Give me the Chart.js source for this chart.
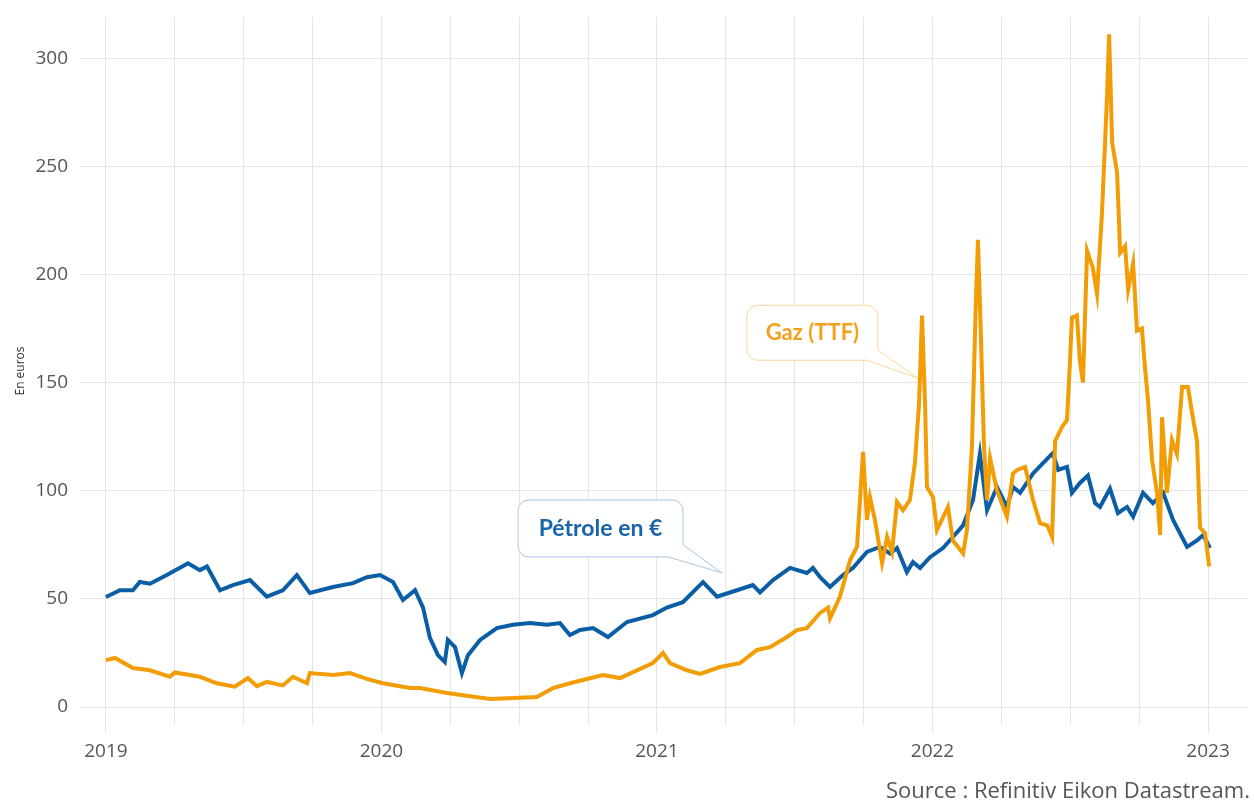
<!DOCTYPE html>
<html lang="fr">
<head>
<meta charset="utf-8">
<script src="https://cdn.jsdelivr.net/npm/chart.js@4.4.0/dist/chart.umd.min.js"></script>
<style>
  html, body { margin: 0; padding: 0; background: #fff; overflow: hidden; }
  #wrap { position: relative; width: 1254px; height: 800px; }
  #source { position: absolute; left: 886px; top: 774px; font: 22px "Open Sans", sans-serif; color: #555; white-space: nowrap; }
</style>
</head>
<body>
<div id="wrap">
  <canvas id="graph" width="1254" height="800"></canvas>
  <div id="source">Source : Refinitiv Eikon Datastream.</div>
</div>
<script>
// années en décimal (2019.5 = milieu de 2019)
const petroleAnnees = [
  2019.000, 2019.051, 2019.098, 2019.123, 2019.160, 2019.221, 2019.298, 2019.341, 2019.367, 2019.414,
  2019.461, 2019.523, 2019.584, 2019.642, 2019.693, 2019.740, 2019.824, 2019.897, 2019.947, 2019.995,
  2020.042, 2020.078, 2020.122, 2020.151, 2020.176, 2020.205, 2020.230, 2020.241, 2020.267, 2020.292,
  2020.314, 2020.358, 2020.419, 2020.477, 2020.539, 2020.601, 2020.648, 2020.684, 2020.721, 2020.768,
  2020.822, 2020.891, 2020.985, 2021.036, 2021.094, 2021.167, 2021.218, 2021.290, 2021.348, 2021.374,
  2021.421, 2021.483, 2021.544, 2021.566, 2021.592, 2021.628, 2021.675, 2021.711, 2021.762, 2021.809,
  2021.846, 2021.871, 2021.907, 2021.929, 2021.955, 2021.991, 2022.038, 2022.074, 2022.111, 2022.147,
  2022.172, 2022.198, 2022.234, 2022.270, 2022.292, 2022.318, 2022.365, 2022.401, 2022.437, 2022.456,
  2022.488, 2022.506, 2022.535, 2022.564, 2022.590, 2022.608, 2022.644, 2022.673, 2022.706, 2022.728,
  2022.764, 2022.800, 2022.837, 2022.873, 2022.924, 2022.960, 2022.982, 2023.007
];
const petroleValeurs = [
  50.9, 54, 54, 57.8, 57, 61, 66.5, 63.3, 65, 54,
  56.4, 58.7, 51, 54, 61, 52.7, 55.5, 57.3, 60, 61,
  57.8, 49.5, 54, 46, 32, 24, 20.8, 31, 27.7, 15.7,
  24, 31, 36.5, 38, 38.8, 38, 38.8, 33.3, 35.6, 36.5,
  32.4, 39.3, 42.5, 46, 48.5, 57.8, 51, 54, 56.4, 53,
  58.7, 64.3, 62, 64.3, 60, 55.5, 61, 64.3, 71.7, 74,
  71, 73.5, 62.4, 67, 64.3, 69.3, 73.5, 78.6, 84, 95.7,
  117, 91, 101.7, 92.5, 101.7, 99, 108, 112.8, 117.4, 109.6,
  111, 99, 103.6, 107, 94.3, 92.5, 101, 89.7, 92.5, 88,
  99, 94.3, 99, 86.5, 74, 77, 79.5, 73.5
];

const gazAnnees = [
  2019.000, 2019.033, 2019.098, 2019.160, 2019.232, 2019.250, 2019.341, 2019.403, 2019.468, 2019.515,
  2019.548, 2019.584, 2019.642, 2019.679, 2019.730, 2019.740, 2019.824, 2019.886, 2019.947, 2020.005,
  2020.103, 2020.140, 2020.238, 2020.394, 2020.564, 2020.623, 2020.684, 2020.804, 2020.866, 2020.985,
  2021.022, 2021.047, 2021.109, 2021.156, 2021.229, 2021.301, 2021.363, 2021.410, 2021.472, 2021.508,
  2021.544, 2021.592, 2021.621, 2021.628, 2021.664, 2021.701, 2021.726, 2021.748, 2021.762, 2021.773,
  2021.791, 2021.817, 2021.835, 2021.853, 2021.871, 2021.893, 2021.918, 2021.936, 2021.951, 2021.962,
  2021.973, 2021.980, 2022.002, 2022.016, 2022.056, 2022.074, 2022.111, 2022.125, 2022.143, 2022.158,
  2022.165, 2022.176, 2022.187, 2022.198, 2022.209, 2022.234, 2022.270, 2022.292, 2022.307, 2022.336,
  2022.365, 2022.390, 2022.416, 2022.434, 2022.445, 2022.470, 2022.488, 2022.499, 2022.506, 2022.524,
  2022.535, 2022.546, 2022.561, 2022.582, 2022.597, 2022.615, 2022.633, 2022.641, 2022.652, 2022.670,
  2022.681, 2022.699, 2022.710, 2022.728, 2022.742, 2022.760, 2022.771, 2022.782, 2022.797, 2022.815,
  2022.826, 2022.833, 2022.851, 2022.869, 2022.887, 2022.906, 2022.927, 2022.942, 2022.960, 2022.971,
  2022.989, 2023.004
];
const gazValeurs = [
  21.7, 22.7, 18, 17, 14, 16, 14, 11, 9.4, 13.4,
  9.7, 11.6, 10, 14, 11, 15.7, 14.8, 15.7, 13, 11,
  8.8, 8.8, 6.5, 3.7, 4.6, 8.8, 11, 14.8, 13.4, 20.3,
  25, 20.3, 17, 15.3, 18.5, 20.3, 26.4, 27.7, 32.4, 35.6,
  36.5, 43.5, 46, 41, 51, 68, 74, 118, 86.5, 97,
  86.5, 66.6, 78.6, 71.7, 94.8, 91, 95.7, 112.8, 140, 181,
  140, 101.7, 97, 81.8, 92.5, 77, 71, 81.8, 120, 190,
  216, 170, 120, 95.7, 115, 100, 88, 108, 109.6, 111,
  95.7, 85, 84, 78.6, 123, 129.5, 132.7, 160, 180, 181,
  160, 150, 211, 203, 191, 228, 281, 311, 261, 247,
  210, 213, 193, 205, 174, 175, 157, 142, 114, 99,
  79.5, 134, 99, 123.4, 117, 148, 148, 136, 123, 83,
  80.4, 65
];

const anneesLabels = [2019, 2020, 2021, 2022, 2023];
const yTicks = [0, 50, 100, 150, 200, 250, 300];

const bleu = '#0b5ea6';
const orange = '#f29d05';

// bulles de légende : pointe sur (annee, valeur)
const bulles = [
  { texte: 'Gaz (TTF)', annee: 2021.947, valeur: 152, couleur: '#f3a11c', bord: '#fbd59b',
    box: [-171, -40, -73, -18], queue: [-51, -28], taille: 22 },
  { texte: 'Pétrole en €', annee: 2021.236, valeur: 62, couleur: '#1a64aa', bord: '#a8c7e3',
    box: [-204, -39, -73, -16], queue: [-54, -28], taille: 23 }
];

const bullesPlugin = {
  id: 'bulles',
  afterDatasetsDraw(chart) {
    const { ctx, scales: { x, y } } = chart;
    bulles.forEach((b) => {
      const tx = x.getPixelForValue(b.annee);
      const ty = y.getPixelForValue(b.valeur);
      const L = tx + b.box[0], R = tx + b.box[1], T = ty + b.box[2], B = ty + b.box[3];
      const r = 11;
      ctx.save();
      ctx.beginPath();
      ctx.moveTo(L + r, T);
      ctx.lineTo(R - r, T);
      ctx.arcTo(R, T, R, T + r, r);
      ctx.lineTo(R, ty + b.queue[1]);
      ctx.lineTo(tx, ty);
      ctx.lineTo(tx + b.queue[0], B);
      ctx.lineTo(L + r, B);
      ctx.arcTo(L, B, L, B - r, r);
      ctx.lineTo(L, T + r);
      ctx.arcTo(L, T, L + r, T, r);
      ctx.closePath();
      ctx.fillStyle = '#fff';
      ctx.fill();
      ctx.strokeStyle = b.bord;
      ctx.lineWidth = 1;
      ctx.stroke();
      ctx.fillStyle = b.couleur;
      ctx.font = 'bold ' + b.taille + 'px Lato';
      ctx.textAlign = 'center';
      ctx.textBaseline = 'middle';
      ctx.fillText(b.texte, (L + R) / 2, (T + B) / 2);
      ctx.restore();
    });
  }
};

const toPoints = (xs, ys) => xs.map((t, i) => ({ x: t, y: ys[i] }));

new Chart(document.getElementById('graph'), {
  type: 'line',
  data: {
    datasets: [
      {
        label: 'Gaz (TTF)',
        data: toPoints(gazAnnees, gazValeurs),
        borderColor: orange,
        borderWidth: 4,
        pointRadius: 0,
        tension: 0
      },
      {
        label: 'Pétrole en €',
        data: toPoints(petroleAnnees, petroleValeurs),
        borderColor: bleu,
        borderWidth: 4,
        pointRadius: 0,
        tension: 0
      }
    ]
  },
  options: {
    responsive: false,
    animation: false,
    devicePixelRatio: 1,
    layout: { padding: { top: 17, right: 6, left: 0, bottom: 0 } },
    plugins: { legend: { display: false }, tooltip: { enabled: false } },
    scales: {
      x: {
        type: 'linear',
        min: 2018.906,
        max: 2023.145,
        afterBuildTicks: (s) => {
          const t = [];
          for (let a = anneesLabels[0]; a <= anneesLabels[anneesLabels.length - 1]; a += 0.25) t.push({ value: a });
          s.ticks = t;
        },
        afterFit: (s) => { s.height = 75; s.paddingLeft = 0; s.paddingRight = 0; },
        border: { display: false },
        grid: {
          color: '#e5e5e5',
          lineWidth: 1,
          tickLength: 8,
          tickColor: (c) => (Number.isInteger(c.tick && c.tick.value) ? '#e5e5e5' : 'rgba(0,0,0,0)')
        },
        ticks: {
          autoSkip: false,
          maxRotation: 0,
          padding: 7,
          color: '#555',
          font: { family: 'Open Sans', size: 19 },
          callback: (v) => (anneesLabels.includes(v) ? String(v) : '')
        }
      },
      y: {
        min: -8.3,
        max: 319,
        afterBuildTicks: (s) => { s.ticks = yTicks.map((v) => ({ value: v })); },
        afterFit: (s) => { s.width = 80; s.paddingTop = 0; s.paddingBottom = 0; },
        border: { display: false },
        grid: { color: '#e5e5e5', lineWidth: 1, drawTicks: false },
        ticks: {
          padding: 12,
          color: '#555',
          font: { family: 'Open Sans', size: 19 }
        },
        title: {
          display: true,
          text: 'En euros',
          color: '#333',
          font: { family: 'Open Sans', size: 12 },
          padding: { top: 13, bottom: 0 }
        }
      }
    }
  },
  plugins: [bullesPlugin]
});
</script>
</body>
</html>
